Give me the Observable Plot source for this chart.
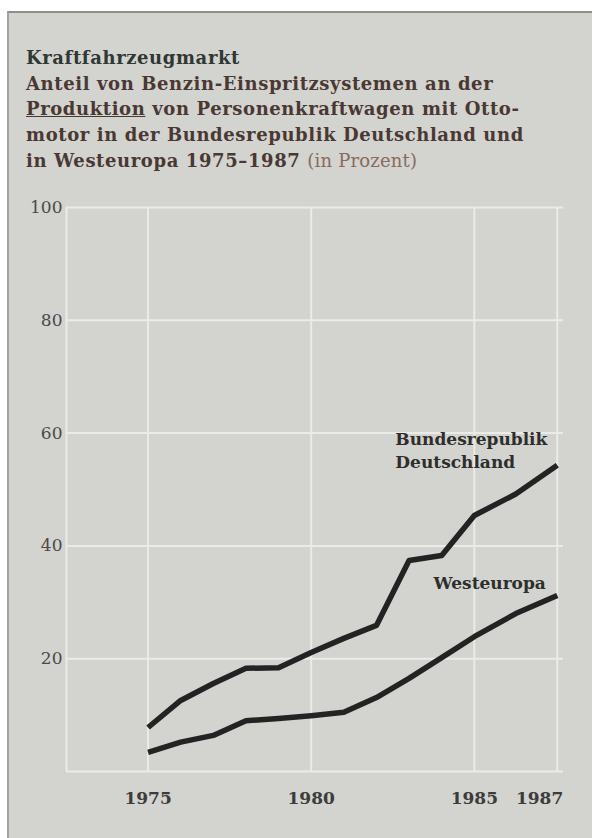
<!DOCTYPE html>
<html>
<head>
<meta charset="utf-8">
<script src="https://cdn.jsdelivr.net/npm/d3@7"></script>
<script src="https://cdn.jsdelivr.net/npm/@observablehq/plot@0.6"></script>
<style>
  html, body { margin: 0; padding: 0; background: #ffffff; width: 592px; height: 838px; overflow: hidden; }
  #frame { position: absolute; left: 7px; top: 11px; width: 600px; height: 840px;
           background: #d3d3cf; border-top: 2px solid #8e8e8b; border-left: 2px solid #a3a3a0; box-sizing: border-box; }
  #title { position: absolute; left: 26px; top: 45px; font-family: "DejaVu Serif", serif; font-weight: bold;
           font-size: 18px; line-height: 25.7px; white-space: nowrap; color: #4a3833; letter-spacing: 0.6px; }
  #title .t1 { color: #2f3833; }
  #title .unit { font-weight: normal; color: #8a6a5e; letter-spacing: 0.2px; }
  #chart { position: absolute; left: 0; top: 190px; }
</style>
</head>
<body>
<div id="frame"></div>
<div id="title">
  <div class="t1">Kraftfahrzeugmarkt</div>
  <div>Anteil von Benzin-Einspritzsystemen an der</div>
  <div><u>Produktion</u> von Personenkraftwagen mit Otto-</div>
  <div>motor in der Bundesrepublik Deutschland und</div>
  <div>in Westeuropa 1975–1987 <span class="unit">(in Prozent)</span></div>
</div>
<div id="chart"></div>
<script>
const years = [1975, 1976, 1977, 1978, 1979, 1980, 1981, 1982, 1983, 1984, 1985, 1986, 1987];
const brd   = [7.8, 12.6, 15.6, 18.3, 18.4, 21.1, 23.6, 25.9, 37.4, 38.3, 45.4, 49.2, 54.3];
const west  = [3.4, 5.2, 6.4, 9.0, 9.4, 9.9, 10.5, 13.1, 16.5, 20.2, 23.9, 28.0, 31.2];
const seriesNames = ["Bundesrepublik Deutschland", "Westeuropa"];
const xTicks = [1975, 1980, 1985, 1987];
const yTicks = [20, 40, 60, 80, 100];
const yGrid = [0, 20, 40, 60, 80, 100];
const xStart = 1972.5;
const xEnd = 1987.15;

// the original drawing stretches the last two years wider than the others
const stretch = y => (y <= 1985 ? y : 1985 + (y - 1985) * 1.2714);

const rows = [
  ...years.map((year, i) => ({year, value: brd[i], series: seriesNames[0]})),
  ...years.map((year, i) => ({year, value: west[i], series: seriesNames[1]}))
];

const labels = [
  {text: "Bundesrepublik\nDeutschland", series: seriesNames[0]},
  {text: "Westeuropa", series: seriesNames[1]}
];

const font = "DejaVu Serif, serif";

const chart = Plot.plot({
  width: 592,
  height: 648,
  marginLeft: 66,
  marginRight: 29,
  marginTop: 17,
  marginBottom: 67,
  style: {background: "transparent", fontFamily: font, overflow: "visible"},
  x: {type: "linear", transform: stretch, nice: false},
  y: {domain: [0, 100], ticks: yTicks},
  marks: [
    Plot.ruleY(yGrid, {x1: xStart, x2: xEnd, stroke: "#ebebe7", strokeWidth: 2}),
    Plot.ruleX([xStart, ...xTicks], {y1: 0, y2: 100, stroke: "#ebebe7", strokeWidth: 2}),
    Plot.axisY({ticks: yTicks, tickSize: 0, tickPadding: 4, fontSize: 17, fill: "#4a4a48", label: null}),
    Plot.axisX({ticks: xTicks, tickSize: 0, tickPadding: 20, fontSize: 17, fontWeight: "bold", fill: "#3c3c3a", label: null, tickFormat: d => String(d)}),
    Plot.line(rows, {x: "year", y: "value", z: "series", stroke: "#232323", strokeWidth: 5.5, strokeLinejoin: "round", strokeLinecap: "butt"}),
    Plot.text(labels.slice(0, 1), {x: 1982.58, y: 57.2, text: "text", textAnchor: "start", lineAnchor: "middle", lineHeight: 1.35, fontSize: 17, fontWeight: "bold", fill: "#2e2e2c"}),
    Plot.text(labels.slice(1), {x: 1983.75, y: 33.3, text: "text", textAnchor: "start", lineAnchor: "middle", fontSize: 17, fontWeight: "bold", fill: "#2e2e2c"})
  ]
});
document.getElementById("chart").appendChild(chart);
</script>
</body>
</html>
